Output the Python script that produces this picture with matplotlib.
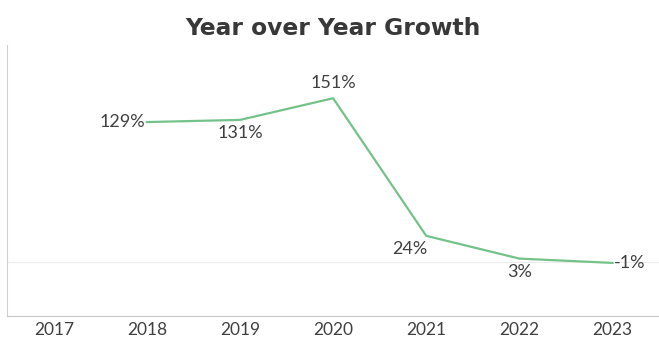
import numpy as np
from matplotlib import pyplot as plt

years = ['2017', '2018', '2019', '2020', '2021', '2022', '2023']
growth = [np.nan, 129, 131, 151, 24, 3, -1]
labels = ['', '129%', '131%', '151%', '24%', '3%', '-1%']
# where each data label sits relative to its point
label_pos = ['', 'left', 'below', 'above', 'below_left', 'below', 'right']

plt.rcParams['font.family'] = ['Lato', 'DejaVu Sans']
fig = plt.figure(figsize=(6.59, 3.42), dpi=100)
ax = fig.add_axes([0.011, 0.076, 0.989, 0.792])

x = np.arange(len(years))
ax.plot(x, growth, color='#74c28a', linewidth=1.6)
ax.axhline(0, color='#ececec', linewidth=0.8, zorder=0)

offsets = {
    'left': ((-1, 0), 'right', 'center'),
    'right': ((1, 0), 'left', 'center'),
    'above': ((0, 5), 'center', 'bottom'),
    'below': ((0, -4), 'center', 'top'),
    'below_left': ((-12, -4), 'center', 'top'),
}
for xi, v, lab, pos in zip(x, growth, labels, label_pos):
    if not lab:
        continue
    off, ha, va = offsets[pos]
    ax.annotate(lab, (xi, v), xytext=off, textcoords='offset points',
                ha=ha, va=va, fontsize=13, color='#404040')

ax.set_xlim(-0.5, len(years) - 0.5)
ax.set_ylim(-50, 200)
ax.set_xticks(x)
ax.set_xticklabels(years, fontsize=12.5, color='#404040')
ax.set_yticks([])
ax.tick_params(axis='x', length=0, pad=4)
for s in ['top', 'right']:
    ax.spines[s].set_visible(False)
ax.spines['left'].set_color('#d0d0d0')
ax.spines['bottom'].set_color('#c8c8c8')

fig.suptitle('Year over Year Growth', fontsize=16.8, fontweight='bold',
             family='DejaVu Sans', color='#383838', x=0.505, y=0.95)

plt.savefig('out.png', dpi=100)
